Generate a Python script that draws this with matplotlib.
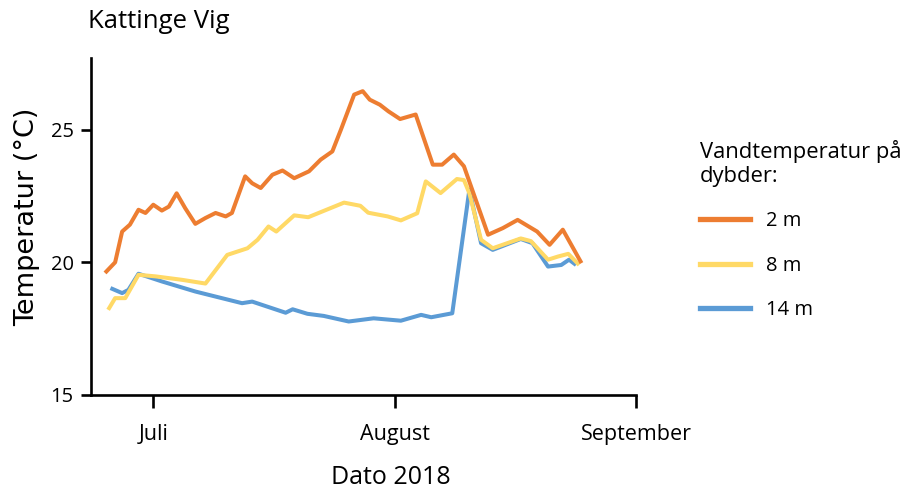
import matplotlib
matplotlib.use("Agg")
import matplotlib.pyplot as plt
from matplotlib.lines import Line2D
import pandas as pd

plt.rcParams['font.family'] = ['Open Sans', 'DejaVu Sans']

# Measurement times as days after 1 July 2018, with water temperature (°C)
days_2m = [-6.2, -4.9, -4.0, -3.0, -1.9, -1.0, 0.0, 1.1, 2.0, 3.0, 4.1, 5.4, 6.7, 8.0,
           9.3, 10.1, 11.8, 12.7, 13.8, 15.3, 16.6, 18.1, 20.0, 21.5, 23.0, 24.1, 25.8,
           26.9, 27.8, 29.1, 30.2, 31.7, 33.7, 35.9, 37.1, 38.6, 39.9, 43.0, 44.9, 46.8,
           49.3, 50.9, 52.6, 55.0]
temp_2m = [19.6, 20.0, 21.16, 21.42, 21.98, 21.86, 22.17, 21.95, 22.1, 22.6, 22.04, 21.45,
           21.67, 21.86, 21.73, 21.86, 23.24, 22.98, 22.8, 23.3, 23.46, 23.17, 23.43, 23.87,
           24.18, 25.0, 26.32, 26.45, 26.13, 25.94, 25.69, 25.4, 25.57, 23.68, 23.68, 24.06,
           23.62, 21.04, 21.29, 21.6, 21.16, 20.66, 21.23, 19.97]

days_8m = [-5.8, -4.9, -3.6, -1.9, 0.3, 3.7, 6.7, 9.5, 12.1, 13.4, 14.8, 15.8, 18.1, 19.9,
           24.5, 26.6, 27.6, 30.1, 31.8, 33.9, 35.0, 36.9, 39.0, 39.9, 40.6, 42.1, 43.6,
           47.2, 48.5, 50.7, 52.0, 53.3, 54.7]
temp_8m = [18.21, 18.65, 18.65, 19.53, 19.47, 19.34, 19.2, 20.28, 20.53, 20.85, 21.35, 21.16,
           21.77, 21.7, 22.25, 22.13, 21.87, 21.73, 21.58, 21.85, 23.05, 22.61, 23.14, 23.1,
           22.6, 20.85, 20.53, 20.9, 20.8, 20.1, 20.22, 20.32, 19.9]

days_14m = [-5.5, -4.0, -3.2, -1.9, 1.1, 5.4, 11.4, 12.7, 17.0, 17.9, 19.8, 21.9, 25.1,
            28.3, 31.8, 34.4, 35.7, 38.4, 40.6, 42.1, 43.6, 47.2, 48.7, 50.7, 52.4, 53.4,
            54.3]
temp_14m = [19.03, 18.84, 18.96, 19.57, 19.28, 18.9, 18.46, 18.52, 18.1, 18.23, 18.06, 17.98,
            17.77, 17.89, 17.8, 18.02, 17.93, 18.08, 22.74, 20.72, 20.47, 20.88, 20.72, 19.84,
            19.9, 20.1, 19.9]

series_labels = ["2 m", "8 m", "14 m"]
series_colors = ["#ED7D31", "#FFD966", "#5B9BD5"]
month_ticks = ["2018-07-01", "2018-08-01", "2018-09-01"]
month_labels = ["Juli", "August", "September"]
y_ticks = [15, 20, 25]

base = pd.Timestamp("2018-07-01")


def to_dates(days):
    return base + pd.to_timedelta(days, unit="D")


fig = plt.figure(figsize=(9.06, 4.95), dpi=100)
ax = fig.add_axes([91 / 906, 100 / 495, 545 / 906, 337 / 495])

# deepest series first so the shallow water stays on top
for days, temps, col in [(days_14m, temp_14m, series_colors[2]),
                         (days_8m, temp_8m, series_colors[1]),
                         (days_2m, temp_2m, series_colors[0])]:
    ax.plot(to_dates(days), temps, color=col, lw=2.9, solid_joinstyle="round",
            solid_capstyle="butt")

ax.set_xlim(pd.Timestamp("2018-06-23"), pd.Timestamp("2018-09-01"))
ax.set_ylim(15, 27.7)

ax.set_xticks(pd.to_datetime(month_ticks))
ax.set_xticklabels(month_labels, fontsize=15.5)
ax.set_yticks(y_ticks)
ax.set_yticklabels([str(v) for v in y_ticks], fontsize=14.5)

for side in ("top", "right"):
    ax.spines[side].set_visible(False)
for side in ("left", "bottom"):
    ax.spines[side].set_linewidth(1.9)
    ax.spines[side].set_color("black")

ax.tick_params(axis="x", direction="out", length=9, width=1.9, pad=12)
ax.tick_params(axis="y", direction="out", length=7, width=1.9, pad=5.5)

ax.set_xlabel("Dato 2018", fontsize=18, va="center")
ax.xaxis.set_label_coords((391 - 91) / 545, -(477 - 395) / 337)
ax.set_ylabel("Temperatur (°C)", fontsize=19.5, family=["DejaVu Sans"], va="center")
ax.yaxis.set_label_coords((27 - 91) / 545, (395 - 217) / 337)

fig.text(88 / 906, 1 - 22 / 495, "Kattinge Vig", fontsize=18.5, va="center", ha="left")

handles = [Line2D([0], [0], color=c, lw=3.8) for c in series_colors]
leg = fig.legend(handles, series_labels, loc="upper left",
                 bbox_to_anchor=(682 / 906, 1 - 122 / 495), frameon=False,
                 title="Vandtemperatur på\ndybder:", alignment="left",
                 fontsize=14.5, title_fontsize=15.8, handlelength=2.5, handletextpad=0.75,
                 labelspacing=1.2)

fig.savefig("out.png", dpi=100)
